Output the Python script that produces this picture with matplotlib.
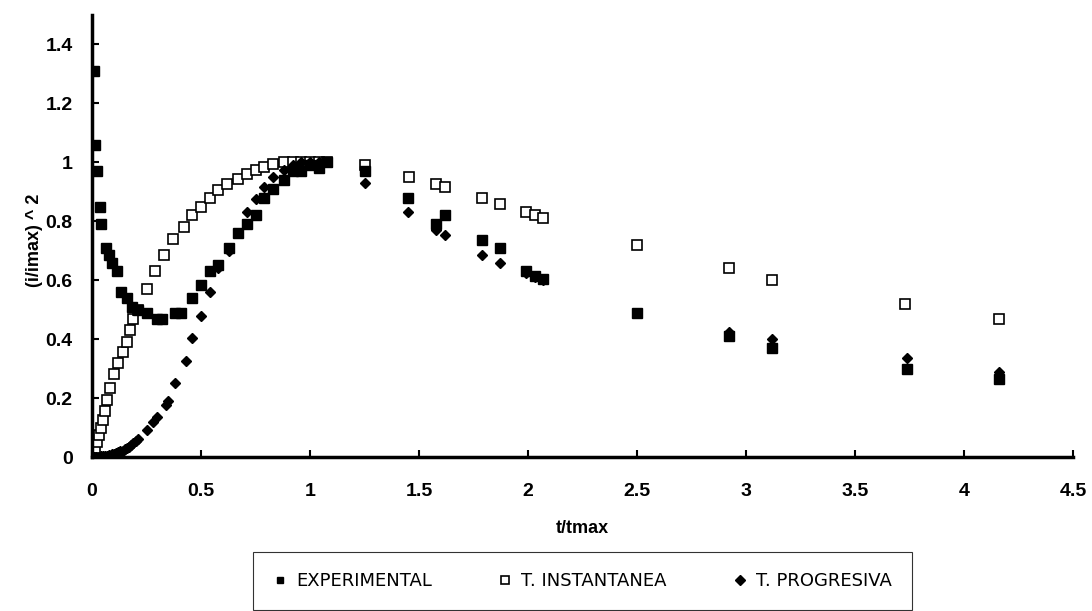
import matplotlib
matplotlib.use("Agg")
import matplotlib.pyplot as plt
from matplotlib.lines import Line2D

plt.rcParams['font.family'] = ['Liberation Sans', 'DejaVu Sans']

# experimental points (filled squares)
exp_t = [0.009, 0.014, 0.023, 0.037, 0.041, 0.064, 0.078, 0.092, 0.115, 0.133,
         0.16, 0.183, 0.21, 0.25, 0.30, 0.32, 0.38, 0.41, 0.46, 0.50,
         0.54, 0.58, 0.63, 0.67, 0.71, 0.75, 0.79, 0.83, 0.88, 0.92,
         0.96, 1.0, 1.04, 1.08, 1.25, 1.45, 1.58, 1.62, 1.79, 1.87,
         1.99, 2.03, 2.07, 2.5, 2.92, 3.12, 3.74, 4.16]
exp_y = [1.31, 1.06, 0.97, 0.85, 0.79, 0.71, 0.685, 0.66, 0.63, 0.56,
         0.54, 0.51, 0.50, 0.49, 0.47, 0.47, 0.49, 0.49, 0.54, 0.585,
         0.63, 0.65, 0.71, 0.76, 0.79, 0.82, 0.88, 0.91, 0.94, 0.97,
         0.97, 0.99, 0.98, 1.0, 0.97, 0.88, 0.79, 0.82, 0.735, 0.71,
         0.63, 0.615, 0.605, 0.49, 0.41, 0.37, 0.30, 0.265]

# instantaneous theory (open squares)
ins_t = [0.01, 0.014, 0.023, 0.032, 0.041, 0.05, 0.06, 0.069, 0.083, 0.10,
         0.12, 0.14, 0.16, 0.175, 0.19, 0.21, 0.25, 0.29, 0.33, 0.37,
         0.42, 0.46, 0.50, 0.54, 0.58, 0.62, 0.67, 0.71, 0.75, 0.79,
         0.83, 0.88, 0.92, 0.96, 1.0, 1.04, 1.08, 1.25, 1.455, 1.58,
         1.62, 1.79, 1.87, 1.99, 2.03, 2.07, 2.5, 2.92, 3.12, 3.73, 4.16]
ins_y = [0.02, 0.03, 0.05, 0.075, 0.10, 0.125, 0.155, 0.195, 0.235, 0.28,
         0.32, 0.355, 0.39, 0.43, 0.47, 0.50, 0.57, 0.63, 0.685, 0.74,
         0.78, 0.82, 0.85, 0.88, 0.905, 0.925, 0.945, 0.96, 0.975, 0.985,
         0.995, 1.0, 1.0, 1.0, 1.0, 1.0, 1.0, 0.99, 0.95, 0.925,
         0.915, 0.88, 0.86, 0.83, 0.82, 0.81, 0.72, 0.64, 0.60, 0.52, 0.47]

# progressive theory (filled diamonds)
prog_t = [0.01, 0.02, 0.03, 0.04, 0.05, 0.06, 0.07, 0.08, 0.09, 0.10,
          0.11, 0.12, 0.13, 0.14, 0.15, 0.16, 0.17, 0.18, 0.19, 0.20,
          0.21, 0.25, 0.28, 0.30, 0.34, 0.35, 0.38, 0.43, 0.46, 0.50,
          0.54, 0.58, 0.63, 0.67, 0.71, 0.75, 0.79, 0.83, 0.88, 0.92,
          0.96, 1.0, 1.04, 1.08, 1.25, 1.45, 1.58, 1.62, 1.79, 1.87,
          1.99, 2.03, 2.07, 2.92, 3.12, 3.74, 4.16]
prog_y = [0.0, 0.0, 0.001, 0.002, 0.003, 0.004, 0.005, 0.007, 0.009, 0.011,
          0.013, 0.016, 0.019, 0.022, 0.026, 0.030, 0.035, 0.040, 0.046, 0.053,
          0.060, 0.09, 0.12, 0.135, 0.175, 0.19, 0.25, 0.325, 0.405, 0.48,
          0.56, 0.64, 0.70, 0.76, 0.83, 0.875, 0.915, 0.95, 0.975, 0.99,
          1.0, 1.0, 1.0, 1.0, 0.93, 0.83, 0.77, 0.755, 0.685, 0.66,
          0.625, 0.61, 0.60, 0.425, 0.40, 0.335, 0.29]

labels = ["EXPERIMENTAL", "T. INSTANTANEA", "T. PROGRESIVA"]
x_ticks = [0, 0.5, 1, 1.5, 2, 2.5, 3, 3.5, 4, 4.5]
y_ticks = [0, 0.2, 0.4, 0.6, 0.8, 1, 1.2, 1.4]

fig = plt.figure(figsize=(10.92, 6.11), dpi=100)
ax = fig.add_axes([92 / 1092, 1 - 457 / 611, (1073 - 92) / 1092, (457 - 15) / 611])

ax.plot(ins_t, ins_y, 's', ms=6.5, mfc='white', mec='black', mew=1.2, zorder=2)
ax.plot(prog_t, prog_y, 'D', ms=5.5, color='black', zorder=3)
ax.plot(exp_t, exp_y, 's', ms=6.5, color='black', zorder=4)

ax.set_xlim(0, 4.5)
ax.set_ylim(0, 1.5)
ax.set_xticks(x_ticks)
ax.set_yticks(y_ticks)
ax.set_xticklabels([f"{v:g}" for v in x_ticks])
ax.set_yticklabels([f"{v:g}" for v in y_ticks])
for side in ['top', 'right']:
    ax.spines[side].set_visible(False)
for side in ['left', 'bottom']:
    ax.spines[side].set_linewidth(2.5)
ax.tick_params(direction='in', length=5, width=1.5, labelsize=14)
ax.tick_params(axis='x', pad=19)
ax.tick_params(axis='y', pad=14)
for lbl in ax.get_xticklabels() + ax.get_yticklabels():
    lbl.set_fontweight('bold')

ax.set_xlabel("t/tmax", fontsize=13, fontweight='bold', labelpad=14)
ax.set_ylabel("(i/imax) ^ 2", fontsize=13, fontweight='bold')
ax.yaxis.set_label_coords(-0.05, 0.49)

handles = [
    Line2D([], [], ls='none', marker='s', ms=5, color='black'),
    Line2D([], [], ls='none', marker='s', ms=6, mfc='white', mec='black', mew=1.2),
    Line2D([], [], ls='none', marker='D', ms=5, color='black'),
]
leg = fig.legend(handles, labels, ncol=3, loc='upper left', mode='expand',
                 bbox_to_anchor=(253 / 1092, 1 - 552 / 611, (912 - 253) / 1092, 0),
                 prop={'family': 'DejaVu Sans', 'size': 13},
                 frameon=True, fancybox=False,
                 handlelength=0.8, handletextpad=0.5, columnspacing=2.0,
                 borderpad=1.1, borderaxespad=0)
leg.get_frame().set_edgecolor('black')
leg.get_frame().set_linewidth(0.8)

fig.savefig("out.png", dpi=100)
